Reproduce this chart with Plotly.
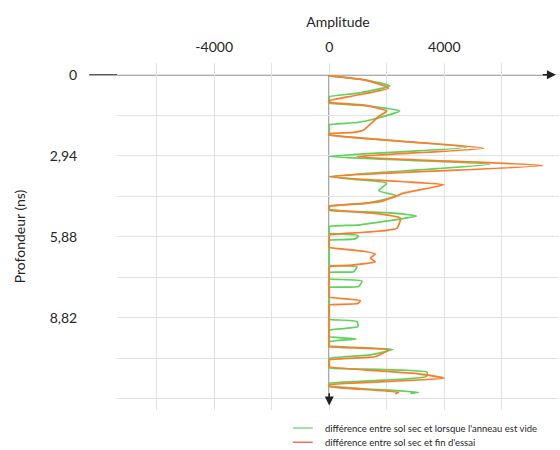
import plotly.graph_objects as go

# ---- data ----
green_depth = [0.04, 0.18, 0.40, 0.66, 0.79, 0.82, 1.00, 1.03, 1.12, 1.31, 1.61, 1.73, 1.81, 1.84, 2.15, 2.18,
               2.63, 2.96, 3.24, 3.69, 3.80, 3.93, 4.20, 4.39, 4.66, 4.75, 4.78, 4.89, 4.92, 5.00, 5.12, 5.44,
               5.50, 5.53, 5.71, 5.74, 5.80, 5.85, 5.95, 6.00, 6.03, 6.87, 6.90, 6.96, 7.14, 7.16, 7.19, 7.37,
               7.40, 7.48, 7.68, 7.71, 7.74, 8.84, 8.87, 8.95, 9.13, 9.26, 9.29, 9.47, 9.50, 9.58, 9.68, 9.71,
               9.80, 9.83, 9.96, 10.16, 10.28, 10.31, 10.60, 10.63, 10.79, 10.95, 11.19, 11.22, 11.25, 11.28,
               11.52, 11.56]
green_amp = [0, 1200, 2100, 1000, 0, 0, 0, 0, 1300, 2450, 1530, 960, 0, 0, 0, 0,
             4790, 0, 5580, 0, 1000, 2000, 1720, 2350, 1310, 0, 0, 0, 0, 2000, 3030, 1080,
             0, 0, 0, 0, 900, 1020, 900, 0, 0, 0, 0, 960, 850, 0, 0, 0,
             0, 1140, 1020, 0, 0, 0, 0, 960, 1000, 0, 0, 0, 0, 940, 0, 0,
             0, 0, 2210, 1430, 0, 0, 0, 0, 3400, 3370, 0, 0, 0, 0,
             3110, 2820]

orange_depth = [0.04, 0.20, 0.48, 0.75, 0.94, 0.99, 1.10, 1.31, 1.51, 2.00, 2.09, 2.14, 2.18, 2.66, 2.97, 3.29,
                3.69, 3.87, 3.99, 4.29, 4.39, 4.60, 4.72, 4.78, 4.81, 4.85, 4.88, 5.05, 5.20, 5.57, 5.81, 5.84,
                6.23, 6.26, 6.40, 6.50, 6.65, 6.78, 6.90, 6.96, 6.99, 8.04, 8.07, 8.19, 8.30, 8.35, 8.38, 9.83,
                9.86, 9.98, 10.22, 10.34, 10.37, 10.56, 10.59, 10.85, 11.01, 11.25, 11.28, 11.31, 11.52, 11.58]
orange_amp = [0, 1300, 2060, 900, 0, 0, 1200, 2000, 1720, 1190, 850, 0, 0, 5370, 960, 7430,
              0, 2470, 3980, 2590, 2350, 1770, 500, 0, 0, 0, 0, 1800, 2470, 2350, 0, 0,
              0, 0, 1200, 1600, 1430, 1600, 800, 0, 0, 0, 0, 1080, 1000, 0, 0, 0,
              0, 2060, 1600, 0, 0, 0, 0, 3100, 4000, 0, 0, 0, 2410, 2300]

series_names = ["différence entre sol sec et lorsque l'anneau est vide",
                "différence entre sol sec et fin d'essai"]
legend_colors = ["#7ddc7d", "#ff6464"]

y_tickvals = [0, 2.94, 5.88, 8.82]
y_ticktext = ["0", "2,94", "5,88", "8,82"]
x_tickvals = [-4000, 0, 4000]
x_ticktext = ["-4000", "0", "4000"]

FONT = "Lato"
GREEN = "#5fd35a"
ORANGE = "#ff7a29"

fig = go.Figure()
fig.add_trace(go.Scatter(x=green_amp, y=green_depth, mode="lines", name=series_names[0],
                         line=dict(color=GREEN, width=1.7, shape="spline", smoothing=0.5),
                         showlegend=False, hoverinfo="skip"))
fig.add_trace(go.Scatter(x=orange_amp, y=orange_depth, mode="lines", name=series_names[1],
                         line=dict(color=ORANGE, width=1.7, shape="spline", smoothing=0.5),
                         showlegend=False, hoverinfo="skip"))

# manual legend (compact spacing like the reference)
legend_rows_y = [-0.052, -0.093]
for name, col, ly in zip(series_names, legend_colors, legend_rows_y):
    fig.add_shape(type="line", xref="paper", yref="paper", x0=0.398, x1=0.443, y0=ly, y1=ly,
                  line=dict(color=col, width=1.5))
    fig.add_annotation(xref="paper", yref="paper", x=0.466, y=ly, xanchor="left", yanchor="middle",
                       text=name, showarrow=False,
                       font=dict(size=9.5, family=FONT, color="#262626"))

# axis lines with arrows
AXC = "#5a5a5a"
fig.add_shape(type="line", xref="x domain", yref="y", x0=-0.063, x1=0.985, y0=0, y1=0,
              line=dict(color=AXC, width=1.5), layer="below")
fig.add_shape(type="line", xref="x", yref="y", x0=0, x1=0, y0=0, y1=11.85,
              line=dict(color=AXC, width=1.5), layer="below")
fig.add_annotation(xref="x domain", yref="y", axref="x domain", ayref="y",
                   x=0.993, y=0, ax=0.96, ay=0, text="", showarrow=True,
                   arrowhead=2, arrowsize=1.2, arrowwidth=1.5, arrowcolor="#222222")
fig.add_annotation(xref="x", yref="y", axref="x", ayref="y",
                   x=0, y=12.0, ax=0, ay=11.5, text="", showarrow=True,
                   arrowhead=2, arrowsize=1.2, arrowwidth=1.5, arrowcolor="#222222")

fig.update_layout(
    width=560, height=450,
    margin=dict(l=117, r=1, t=63, b=40, autoexpand=False),
    paper_bgcolor="white", plot_bgcolor="white",
    font=dict(family=FONT, color="#262626", size=14),
    showlegend=False,
    xaxis=dict(
        side="top", range=[-7380, 7990], automargin=False,
        tickmode="array", tickvals=x_tickvals, ticktext=x_ticktext,
        ticks="outside", ticklen=4, tickcolor="rgba(0,0,0,0)",
        showgrid=True, gridcolor="#e2e2e2", gridwidth=1,
        minor=dict(tickmode="linear", tick0=0, dtick=2000, showgrid=True,
                   gridcolor="#e2e2e2", gridwidth=1, ticks=""),
        zeroline=False, showline=False,
        tickfont=dict(size=14),
        title=dict(text="Amplitude", font=dict(size=14), standoff=7),
    ),
    yaxis=dict(
        range=[12.16, -0.43], automargin=False,
        tickmode="array", tickvals=y_tickvals, ticktext=y_ticktext,
        ticks="outside", ticklen=36, tickcolor="rgba(0,0,0,0)",
        showgrid=True, gridcolor="#e2e2e2", gridwidth=1,
        minor=dict(tickmode="linear", tick0=0, dtick=1.47, showgrid=True,
                   gridcolor="#e2e2e2", gridwidth=1, ticks=""),
        zeroline=False, showline=False,
        tickfont=dict(size=14),
        title=dict(text="Profondeur (ns)", font=dict(size=14), standoff=20),
    ),
)

fig.write_html("out.html", config={"displayModeBar": False},
               post_script="document.body.style.margin='0';")
